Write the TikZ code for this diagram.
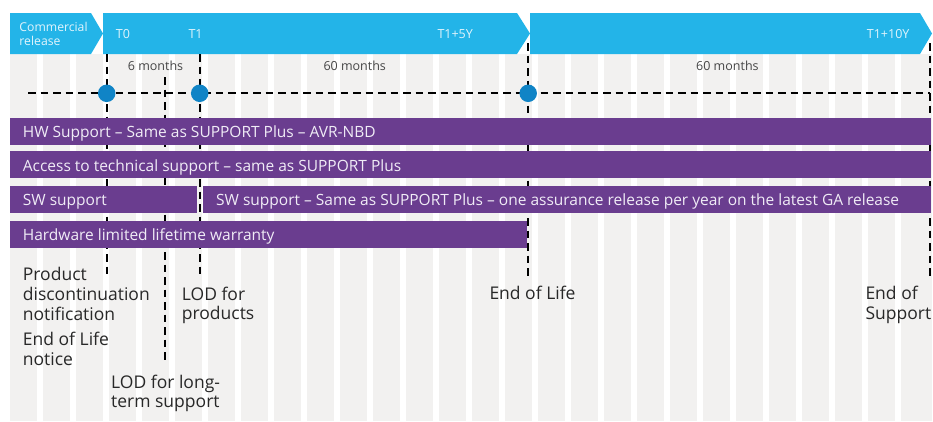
\documentclass[tikz,border=0pt]{standalone}
\usepackage{fontspec}
\setmainfont{Open Sans}
\definecolor{band}{RGB}{35,180,232}
\definecolor{bandtxt}{RGB}{225,244,252}
\definecolor{bar}{RGB}{106,61,143}
\definecolor{bartxt}{RGB}{240,236,246}
\definecolor{dotblue}{RGB}{16,132,198}
\definecolor{stripe}{RGB}{242,241,240}
\definecolor{ink}{RGB}{40,40,40}
\definecolor{softink}{RGB}{70,70,70}
\begin{document}
\begin{tikzpicture}[x=1pt,y=-1pt,
  bandlabel/.style={anchor=base west,inner sep=0pt,text=bandtxt,font=\fontsize{12.5}{14}\selectfont},
  phaselabel/.style={bandlabel,font=\fontsize{12.2}{14}\selectfont},
  barlabel/.style={anchor=base west,inner sep=0pt,text=bartxt,font=\fontsize{15.5}{18}\selectfont},
  spanlabel/.style={anchor=base west,inner sep=0pt,text=softink,font=\fontsize{12.5}{14}\selectfont},
  eventlabel/.style={anchor=base west,inner sep=0pt,text=ink,font=\fontsize{17.5}{20}\selectfont},
  milestone/.style={draw=black,line width=2pt,dash pattern=on 7.5pt off 5pt},
  mdot/.style={circle,fill=dotblue,minimum size=17.5pt,inner sep=0pt}]
\useasboundingbox (0,0) rectangle (933,421);
\fill[white] (0,0) rectangle (933,421);

% vertical background stripes
\foreach \k in {0,...,26} \fill[stripe] ({10+33*\k},54) rectangle ++(27,367);
\fill[stripe] (901,54) rectangle (932,421);

% phase band (chevrons)
\fill[band] (10,13) -- (91,13) -- (103,33.5) -- (91,54) -- (10,54) -- cycle;
\fill[band] (103,13) -- (517,13) -- (530,33.5) -- (517,54) -- (103,54) -- cycle;
\fill[band] (530,13) -- (920,13) -- (932,33.5) -- (920,54) -- (530,54) -- cycle;

\node[phaselabel] (cr1) at (19.3,31.7) {Commercial};
\node[phaselabel] (cr2) at (19.3,45.7) {release};
\node[bandlabel] (lt0) at (115.7,38.3) {T0};
\node[bandlabel] (lt1) at (188.3,38.3) {T1};
\node[bandlabel] (lt5) at (437.3,38.3) {T1+5Y};
\node[bandlabel] (lt10) at (866.7,38.3) {T1+10Y};

% durations
\node[spanlabel] (m6) at (127.7,70) {6 months};
\node[spanlabel] (m60a) at (323.3,70) {60 months};
\node[spanlabel] (m60b) at (696,70) {60 months};

% milestone lines
\coordinate (t0top) at (106.7,54);   \coordinate (t0bot) at (106.7,274);
\coordinate (ltstop) at (164.7,77);  \coordinate (ltsbot) at (164.7,363);
\coordinate (t1top) at (199.7,54);   \coordinate (t1bot) at (199.7,275);
\coordinate (eoltop) at (528.2,43);  \coordinate (eolbot) at (528.2,277);
\coordinate (eostop) at (930,43);    \coordinate (eosbot) at (930,277);
\coordinate (tlstart) at (28,93.3);  \coordinate (tlend) at (930,93.3);

\draw[milestone] (t0top) -- (t0bot);
\draw[milestone] (ltstop) -- (ltsbot);
\draw[milestone] (t1top) -- (t1bot);
\draw[milestone] (eoltop) -- (eolbot);
\draw[milestone] (eostop) -- (eosbot);
\draw[milestone] (tlstart) -- (tlend);

\node[mdot] (d0) at (106.7,93.3) {};
\node[mdot] (d1) at (199.7,93.3) {};
\node[mdot] (d5) at (528.2,93.3) {};

% service bars
\fill[bar] (10,118) rectangle (931,145);
\fill[bar] (10,151) rectangle (931,178);
\fill[bar] (10,186) rectangle (197,213);
\fill[bar] (203,186) rectangle (931,213);
\fill[bar] (10,221) rectangle (527,248);

\node[barlabel] (b1) at (22.7,137.3) {HW Support – Same as SUPPORT Plus – AVR-NBD};
\node[barlabel] (b2) at (22.7,171) {Access to technical support – same as SUPPORT Plus};
\node[barlabel] (b3a) at (22.7,205) {SW support};
\node[barlabel] (b3b) at (216,205) {SW support – Same as SUPPORT Plus – one assurance release per year on the latest GA release};
\node[barlabel] (b4) at (22.7,240) {Hardware limited lifetime warranty};

% event labels
\node[eventlabel] (pd1) at (22.7,280.7) {Product};
\node[eventlabel] (pd2) at (22.7,300.3) {discontinuation};
\node[eventlabel] (pd3) at (22.7,320) {notification};
\node[eventlabel] (en1) at (22.7,345) {End of Life};
\node[eventlabel] (en2) at (22.7,365) {notice};
\node[eventlabel] (lp1) at (181.7,300) {LOD for};
\node[eventlabel] (lp2) at (181.7,319.5) {products};
\node[eventlabel] (ll1) at (111,388.3) {LOD for long-};
\node[eventlabel] (ll2) at (111,407) {term support};
\node[eventlabel] (eol) at (489.3,299) {End of Life};
\node[eventlabel] (es1) at (865.3,299) {End of};
\node[eventlabel] (es2) at (865.3,319) {Support};
\end{tikzpicture}
\end{document}
